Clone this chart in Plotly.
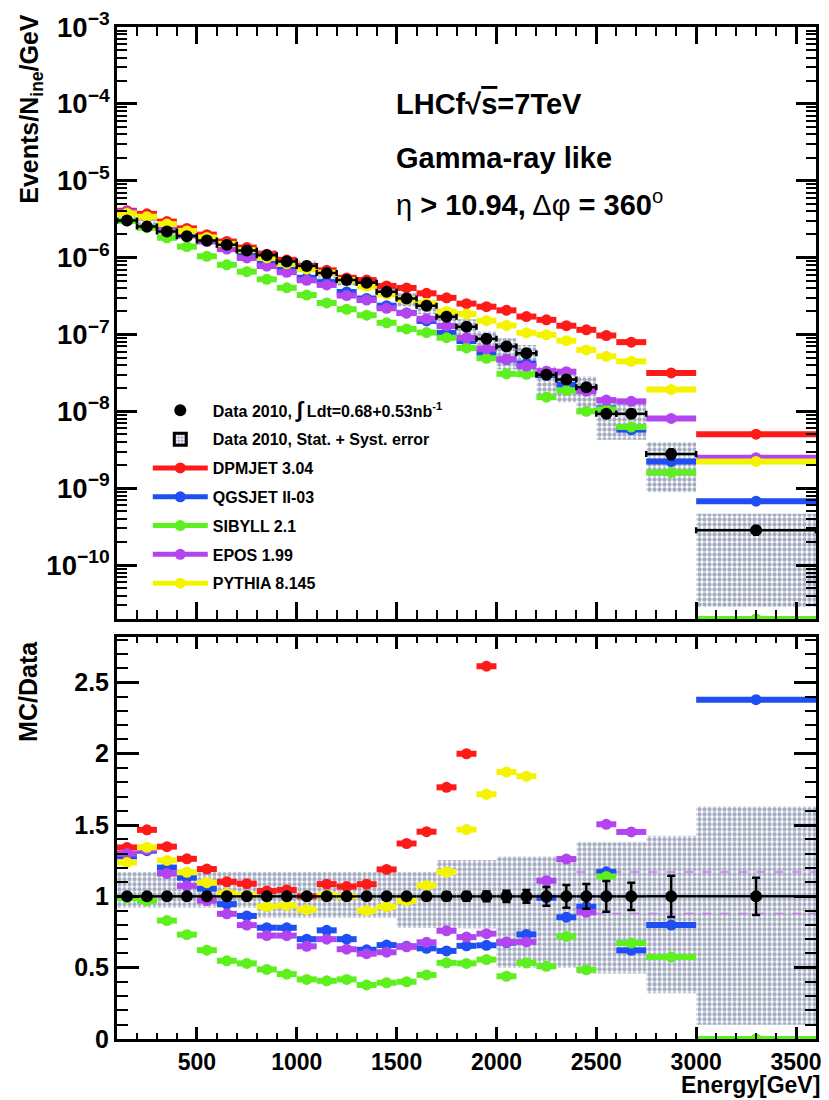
import plotly.graph_objects as go

# ---------------- data ----------------
bin_edges = [100, 200, 300, 400, 500, 600, 700, 800, 900, 1000, 1100, 1200, 1300,
             1400, 1500, 1600, 1700, 1800, 1900, 2000, 2100, 2200, 2300, 2400,
             2500, 2600, 2750, 3000, 3600]

data_2010 = [3.03e-6, 2.53e-6, 2.18e-6, 1.90e-6, 1.67e-6, 1.47e-6, 1.24e-6, 1.07e-6,
             8.9e-7, 7.8e-7, 6.3e-7, 5.1e-7, 4.7e-7, 3.6e-7, 2.94e-7, 2.36e-7,
             1.70e-7, 1.26e-7, 8.8e-8, 7.0e-8, 5.7e-8, 3.0e-8, 2.6e-8, 2.06e-8,
             9.3e-9, 9.3e-9, 2.78e-9, 2.85e-10]
data_stat_rel = [0.01, 0.01, 0.01, 0.01, 0.01, 0.01, 0.012, 0.012, 0.013, 0.014,
                 0.015, 0.016, 0.018, 0.02, 0.022, 0.025, 0.028, 0.03, 0.035, 0.04,
                 0.045, 0.066, 0.08, 0.087, 0.107, 0.095, 0.145, 0.13]
syst_lo_rel = [0.92, 0.92, 0.92, 0.92, 0.92, 0.92, 0.92, 0.85, 0.85, 0.85, 0.85, 0.85,
               0.85, 0.85, 0.78, 0.78, 0.775, 0.775, 0.775, 0.50, 0.50, 0.50, 0.50,
               0.46, 0.46, 0.46, 0.32, 0.10]
syst_hi_rel = [1.17, 1.17, 1.17, 1.17, 1.17, 1.17, 1.17, 1.17, 1.17, 1.17, 1.17, 1.17,
               1.17, 1.17, 1.17, 1.17, 1.255, 1.255, 1.255, 1.28, 1.28, 1.28, 1.28,
               1.38, 1.38, 1.38, 1.425, 1.63]

dpmjet = [4.07e-6, 3.71e-6, 2.94e-6, 2.40e-6, 1.99e-6, 1.62e-6, 1.35e-6, 1.11e-6,
          9.3e-7, 7.8e-7, 6.84e-7, 5.45e-7, 5.1e-7, 4.28e-7, 4.03e-7, 3.43e-7,
          3.0e-7, 2.52e-7, 2.30e-7, 2.06e-7, 1.71e-7, 1.55e-7, 1.30e-7, 1.15e-7,
          9.7e-8, 7.95e-8, 3.16e-8, 5.05e-9]
qgsjet = [3.88e-6, 3.34e-6, 2.62e-6, 2.15e-6, 1.76e-6, 1.39e-6, 1.07e-6, 8.35e-7,
          6.94e-7, 5.46e-7, 4.80e-7, 3.57e-7, 2.94e-7, 2.37e-7, 1.91e-7, 1.50e-7,
          1.05e-7, 8.23e-8, 5.78e-8, 4.73e-8, 4.18e-8, 2.97e-8, 2.22e-8, 1.91e-8,
          1.09e-8, 5.78e-9, 2.22e-9, 6.78e-10]
sibyll = [3.0e-6, 2.45e-6, 1.81e-6, 1.39e-6, 1.04e-6, 8.06e-7, 6.57e-7, 5.22e-7,
          4.05e-7, 3.26e-7, 2.57e-7, 2.13e-7, 1.78e-7, 1.42e-7, 1.18e-7, 1.06e-7,
          9.08e-8, 6.68e-8, 4.9e-8, 3.08e-8, 3.04e-8, 1.53e-8, 1.87e-8, 1.0e-8,
          1.06e-8, 6.26e-9, 1.6e-9, 0.0]
epos = [3.94e-6, 3.36e-6, 2.53e-6, 2.04e-6, 1.62e-6, 1.29e-6, 9.9e-7, 7.76e-7,
        6.45e-7, 5.07e-7, 4.41e-7, 3.21e-7, 2.81e-7, 2.19e-7, 1.90e-7, 1.60e-7,
        1.29e-7, 9.0e-8, 6.5e-8, 4.76e-8, 3.88e-8, 3.33e-8, 3.28e-8, 1.83e-8,
        1.40e-8, 1.35e-8, 8.1e-9, 2.5e-9]
pythia = [3.75e-6, 3.40e-6, 2.73e-6, 2.22e-6, 1.83e-6, 1.50e-6, 1.25e-6, 9.94e-7,
          8.33e-7, 7.07e-7, 6.36e-7, 5.1e-7, 4.23e-7, 3.34e-7, 2.85e-7, 2.54e-7,
          1.99e-7, 1.85e-7, 1.51e-7, 1.31e-7, 1.05e-7, 9.9e-8, 8.3e-8, 6.3e-8,
          5.2e-8, 4.47e-8, 1.92e-8, 2.23e-9]

# extra dashed band seen in the ratio panel at high energy
extra_band_x = [2400, 3600]
extra_band_lo = 0.88
extra_band_hi = 1.17

models = [
    ("DPMJET 3.04", dpmjet, "#ff1a1a"),
    ("QGSJET II-03", qgsjet, "#1f4ff2"),
    ("SIBYLL 2.1", sibyll, "#5df01e"),
    ("EPOS 1.99", epos, "#b245f0"),
    ("PYTHIA 8.145", pythia, "#f4f400"),
]

# ---------------- derived binning ----------------
centers = [(a + b) / 2 for a, b in zip(bin_edges[:-1], bin_edges[1:])]
halfw = [(b - a) / 2 for a, b in zip(bin_edges[:-1], bin_edges[1:])]

TOP_YMIN = -10.7
TOP_YMAX = -3.0
BOT_YMAX = 2.82
FONT = "Liberation Sans, Arial, Helvetica, sans-serif"


def step_band(lo, hi):
    xs, ys = [], []
    for i in range(len(lo)):
        xs += [bin_edges[i], bin_edges[i + 1]]
        ys += [hi[i], hi[i]]
    for i in reversed(range(len(lo))):
        xs += [bin_edges[i + 1], bin_edges[i]]
        ys += [lo[i], lo[i]]
    xs.append(xs[0]); ys.append(ys[0])
    return xs, ys


pattern = dict(shape=".", fgcolor="#4b5a86", bgcolor="white", size=5, solidity=0.6)

fig = go.Figure()

# ---- band (top) ----
bx, by = step_band([d * l for d, l in zip(data_2010, syst_lo_rel)],
                   [d * h for d, h in zip(data_2010, syst_hi_rel)])
fig.add_trace(go.Scatter(x=bx, y=by, xaxis="x", yaxis="y", mode="lines",
                         fill="toself", fillpattern=pattern, fillcolor="white",
                         line=dict(width=0, color="rgba(0,0,0,0)"),
                         showlegend=False, hoverinfo="skip"))
# ---- band (bottom) ----
bx2, by2 = step_band(syst_lo_rel, syst_hi_rel)
fig.add_trace(go.Scatter(x=bx2, y=by2, xaxis="x2", yaxis="y2", mode="lines",
                         fill="toself", fillpattern=pattern, fillcolor="white",
                         line=dict(width=0, color="rgba(0,0,0,0)"),
                         showlegend=False, hoverinfo="skip"))
for lvl in (extra_band_lo, extra_band_hi):
    fig.add_trace(go.Scatter(x=extra_band_x, y=[lvl, lvl], xaxis="x2", yaxis="y2",
                             mode="lines", line=dict(color="#c77be8", width=1.5, dash="dash"),
                             showlegend=False, hoverinfo="skip"))

# ---- models ----
for name, vals, col in models:
    top_vals = [v if v > 0 else 10 ** TOP_YMIN for v in vals]
    fig.add_trace(go.Scatter(
        x=centers, y=top_vals, xaxis="x", yaxis="y", mode="markers",
        marker=dict(symbol="circle", size=11, color=col),
        error_x=dict(type="data", array=halfw, thickness=6, width=0, color=col),
        legendgroup=name, showlegend=False, name=name))
    ratio = [v / d for v, d in zip(vals, data_2010)]
    fig.add_trace(go.Scatter(
        x=centers, y=ratio, xaxis="x2", yaxis="y2", mode="markers",
        marker=dict(symbol="circle", size=11, color=col),
        error_x=dict(type="data", array=halfw, thickness=6, width=0, color=col),
        legendgroup=name, showlegend=False, name=name))

# ---- data ----
fig.add_trace(go.Scatter(
    x=centers, y=data_2010, xaxis="x", yaxis="y", mode="markers",
    marker=dict(symbol="circle", size=12, color="black"),
    error_x=dict(type="data", array=halfw, thickness=2.5, width=3, color="black"),
    error_y=dict(type="data", array=[d * s for d, s in zip(data_2010, data_stat_rel)],
                 thickness=2.5, width=3, color="black"),
    legendgroup="data", showlegend=False))
fig.add_trace(go.Scatter(
    x=centers, y=[1.0] * len(centers), xaxis="x2", yaxis="y2", mode="markers",
    marker=dict(symbol="circle", size=12, color="black"),
    error_x=dict(type="data", array=halfw, thickness=2.5, width=0, color="black"),
    error_y=dict(type="data", array=data_stat_rel, thickness=2.5, width=4, color="black"),
    showlegend=False))

# ---- legend entries ----
fig.add_trace(go.Scatter(x=[None], y=[None], xaxis="x", yaxis="y", mode="markers",
                         marker=dict(size=12, color="black"), legendgroup="data", legendrank=1,
                         name="Data 2010, <span style='font-size:22px'>∫</span> Ldt=0.68+0.53nb<sup>-1</sup>"))
fig.add_trace(go.Bar(x=[None], y=[None], xaxis="x", yaxis="y",
                     marker=dict(color="white", pattern=dict(shape=".", fgcolor="#4b5a86",
                                                             bgcolor="white", size=4, solidity=0.6),
                                 line=dict(color="black", width=3)),
                     legendgroup="band", legendrank=2,
                     name="Data 2010, Stat. + Syst. error"))
for k, (name, vals, col) in enumerate(models):
    fig.add_trace(go.Scatter(x=[None], y=[None], xaxis="x", yaxis="y", mode="lines+markers",
                             marker=dict(size=11, color=col), line=dict(width=5, color=col),
                             legendgroup=name, legendrank=3 + k, name=name))

W, H = 829, 1100
L, R, T, B = 117, 8, 20, 61
PW, PH = W - L - R, H - T - B


def px_to_paper_y(ypx):
    return (H - B - ypx) / PH


def px_to_paper_x(xpx):
    return (xpx - L) / PW


axis_common = dict(showline=True, linecolor="black", linewidth=3, mirror="ticks",
                   ticks="inside", tickcolor="black", showgrid=False, zeroline=False)

fig.update_layout(
    width=W, height=H,
    margin=dict(l=L, r=R, t=T, b=B),
    paper_bgcolor="white", plot_bgcolor="white",
    font=dict(family=FONT, color="black"),
    xaxis=dict(domain=[0, 1], anchor="y", range=[100, 3600], tick0=0, dtick=500,
               ticklen=17, tickwidth=2.5, showticklabels=False,
               minor=dict(dtick=100, ticklen=9, tickwidth=2, ticks="inside", tickcolor="black"),
               **axis_common),
    yaxis=dict(domain=[px_to_paper_y(616), 1], anchor="x", type="log",
               range=[TOP_YMIN, TOP_YMAX], dtick=1, exponentformat="power",
               ticklen=20, tickwidth=2.5,
               tickfont=dict(size=22, family=FONT, weight="bold"),
               minor=dict(dtick="D1", ticklen=10, tickwidth=2, ticks="inside", tickcolor="black"),
               **axis_common),
    xaxis2=dict(domain=[0, 1], anchor="y2", range=[100, 3600], tick0=0, dtick=500,
                ticklen=12, tickwidth=2.5, matches="x",
                tickfont=dict(size=23, family=FONT, weight="bold"),
                minor=dict(dtick=100, ticklen=6, tickwidth=2, ticks="inside", tickcolor="black"),
                **axis_common),
    yaxis2=dict(domain=[0, px_to_paper_y(634)], anchor="x2", range=[0, BOT_YMAX],
                tick0=0, dtick=0.5, ticklen=22, tickwidth=2.5,
                tickfont=dict(size=25, family=FONT, weight="bold"),
                minor=dict(dtick=0.1, ticklen=11, tickwidth=2, ticks="inside", tickcolor="black"),
                **axis_common),
    legend=dict(x=px_to_paper_x(148), y=px_to_paper_y(389), xanchor="left", yanchor="top",
                bgcolor="rgba(0,0,0,0)", borderwidth=0, tracegroupgap=5, itemwidth=55,
                font=dict(size=16, family=FONT, weight="bold"), itemclick=False),
    showlegend=True,
)

ann = [
    dict(text="<b>Events/N<sub>ine</sub>/GeV</b>", x=px_to_paper_x(30), y=px_to_paper_y(5),
         xanchor="center", yanchor="top", textangle=-90, font=dict(size=25)),
    dict(text="<b>MC/Data</b>", x=px_to_paper_x(28), y=px_to_paper_y(636),
         xanchor="center", yanchor="top", textangle=-90, font=dict(size=25)),
    dict(text="<b>Energy[GeV]</b>", x=px_to_paper_x(826), y=px_to_paper_y(1099),
         xanchor="right", yanchor="bottom", borderpad=0, font=dict(size=23)),
    dict(text="<b>LHCf√<span style='text-decoration:overline'>s</span>=7TeV</b>",
         x=px_to_paper_x(396), y=px_to_paper_y(98), xanchor="left", yanchor="middle",
         font=dict(size=29)),
    dict(text="<b>Gamma-ray like</b>", x=px_to_paper_x(396), y=px_to_paper_y(152),
         xanchor="left", yanchor="middle", font=dict(size=29)),
    dict(text="η <b>&gt; 10.94,</b> Δφ <b>= 360</b><sup>o</sup>", x=px_to_paper_x(396),
         y=px_to_paper_y(197), xanchor="left", yanchor="middle", font=dict(size=29)),
]
for a in ann:
    a.update(xref="paper", yref="paper", showarrow=False)
    a["font"].update(family=FONT, color="black")
fig.update_layout(annotations=ann)

fig.write_html("out.html")
